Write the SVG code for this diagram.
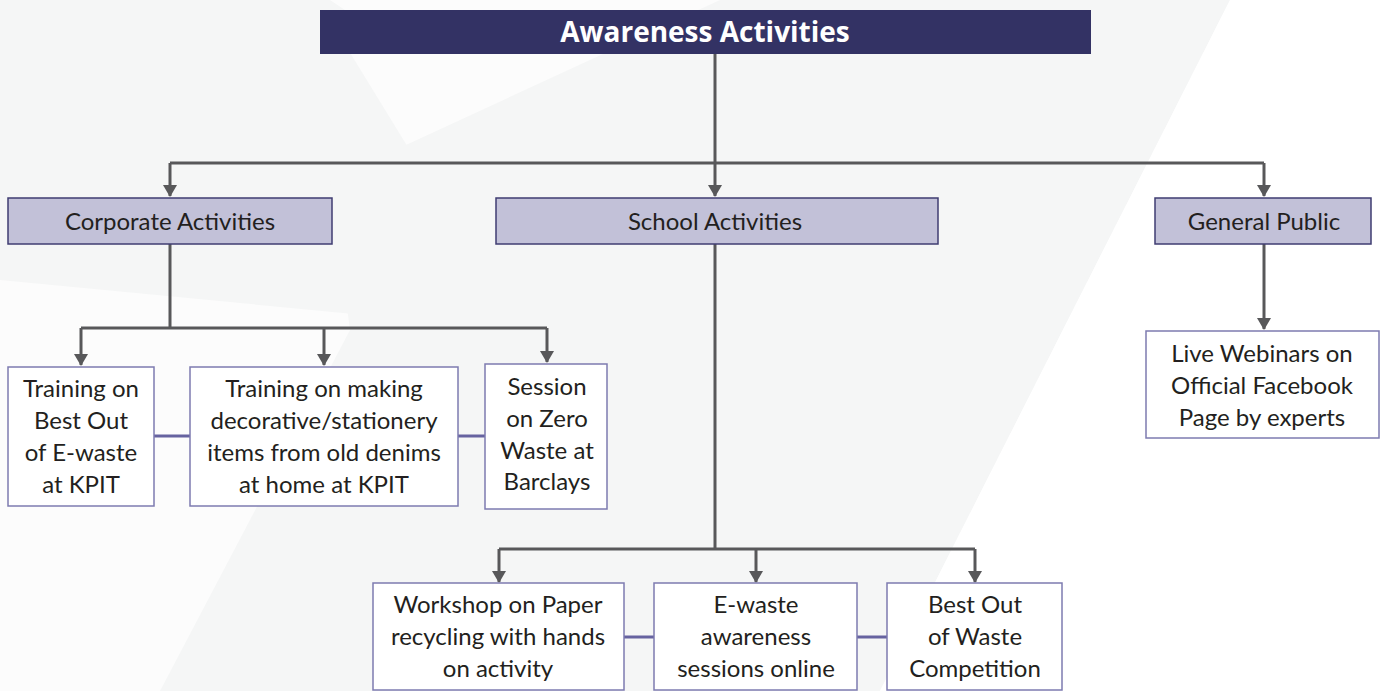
<svg xmlns="http://www.w3.org/2000/svg" width="1386" height="691" viewBox="0 0 1386 691">
<style>
.bg{fill:#fcfcfc}
.sh{fill:#f5f6f6}
.sh2{fill:#ffffff}
.title{fill:#333264}
.title-t{font-family:"Open Sans","Liberation Sans",sans-serif;font-weight:700;font-size:28px;fill:#ffffff}
.l2{fill:#c2c1d8;stroke:#3f3d72;stroke-width:1.5}
.l3{fill:#ffffff;stroke:#7d7bb0;stroke-width:1.5}
.t{font-family:Lato,"Liberation Sans",sans-serif;font-size:24px;fill:#231f20;text-anchor:middle}
.c{fill:none;stroke:#58585a;stroke-width:3}
.p{fill:none;stroke:#6663a0;stroke-width:3}
</style>
<defs>
<marker id="arr" viewBox="0 0 12 14" refX="11" refY="7" markerWidth="12" markerHeight="14" markerUnits="userSpaceOnUse" orient="auto">
<path d="M0,0 L12,7 L0,14 Z" fill="#58585a"/>
</marker>
</defs>
<rect class="bg" x="0" y="0" width="1386" height="691"/>
<g id="background">
<polygon class="sh" points="0,0 330,0 360,20 0,20"/>
<polygon class="sh" points="0,20 330,20 520,330 0,280"/>
<polygon class="sh" points="330,180 720,0 1230,0 880,691 160,691 350,330"/>
<polygon class="sh2" points="1230,0 1386,0 1386,691 880,691"/>
</g>
<g id="connectors">
<path class="c" d="M715,54 V163"/>
<path class="c" d="M170,163 H1264"/>
<path class="c" d="M170,163 V196" marker-end="url(#arr)"/>
<path class="c" d="M715,163 V196" marker-end="url(#arr)"/>
<path class="c" d="M1264,163 V196" marker-end="url(#arr)"/>
<path class="c" d="M170,244 V328"/>
<path class="c" d="M81,328 H547"/>
<path class="c" d="M81,328 V365" marker-end="url(#arr)"/>
<path class="c" d="M324,328 V365" marker-end="url(#arr)"/>
<path class="c" d="M547,328 V362" marker-end="url(#arr)"/>
<path class="c" d="M715,244 V549"/>
<path class="c" d="M499,549 H975"/>
<path class="c" d="M499,549 V582" marker-end="url(#arr)"/>
<path class="c" d="M756,549 V582" marker-end="url(#arr)"/>
<path class="c" d="M975,549 V582" marker-end="url(#arr)"/>
<path class="c" d="M1264,244 V329" marker-end="url(#arr)"/>
<path class="p" d="M154,436 H190"/>
<path class="p" d="M458,436 H485"/>
<path class="p" d="M624,637 H654"/>
<path class="p" d="M857,637 H887"/>
</g>
<g id="n-title">
<rect class="title" x="320" y="10" width="771" height="44"/>
<text class="title-t" x="705" y="42" text-anchor="middle">Awareness Activities</text>
</g>
<g id="n-corporate">
<rect class="l2" x="8" y="198" width="324" height="46"/>
<text class="t" x="170" y="230">Corporate Activities</text>
</g>
<g id="n-school">
<rect class="l2" x="496" y="198" width="442" height="46"/>
<text class="t" x="715" y="230">School Activities</text>
</g>
<g id="n-general">
<rect class="l2" x="1155" y="198" width="216" height="46"/>
<text class="t" x="1264" y="230">General Public</text>
</g>
<g id="n-ewaste-kpit">
<rect class="l3" x="8" y="367" width="146" height="139"/>
<text class="t" x="81" y="397">Training on</text>
<text class="t" x="81" y="429">Best Out</text>
<text class="t" x="81" y="461">of E-waste</text>
<text class="t" x="81" y="493">at KPIT</text>
</g>
<g id="n-denims">
<rect class="l3" x="190" y="367" width="268" height="139"/>
<text class="t" x="324" y="397">Training on making</text>
<text class="t" x="324" y="429">decorative/stationery</text>
<text class="t" x="324" y="461">items from old denims</text>
<text class="t" x="324" y="493">at home at KPIT</text>
</g>
<g id="n-zero">
<rect class="l3" x="485" y="364" width="122" height="145"/>
<text class="t" x="547" y="395">Session</text>
<text class="t" x="547" y="427">on Zero</text>
<text class="t" x="547" y="459">Waste at</text>
<text class="t" x="547" y="490">Barclays</text>
</g>
<g id="n-webinars">
<rect class="l3" x="1146" y="331" width="233" height="107"/>
<text class="t" x="1262" y="362">Live Webinars on</text>
<text class="t" x="1262" y="394">Official Facebook</text>
<text class="t" x="1262" y="426">Page by experts</text>
</g>
<g id="n-paper">
<rect class="l3" x="373" y="583" width="251" height="107"/>
<text class="t" x="498" y="613">Workshop on Paper</text>
<text class="t" x="498" y="645">recycling with hands</text>
<text class="t" x="498" y="677">on activity</text>
</g>
<g id="n-online">
<rect class="l3" x="654" y="583" width="203" height="107"/>
<text class="t" x="756" y="613">E-waste</text>
<text class="t" x="756" y="645">awareness</text>
<text class="t" x="756" y="677">sessions online</text>
</g>
<g id="n-bestout">
<rect class="l3" x="887" y="583" width="175" height="107"/>
<text class="t" x="975" y="613">Best Out</text>
<text class="t" x="975" y="645">of Waste</text>
<text class="t" x="975" y="677">Competition</text>
</g>
</svg>
